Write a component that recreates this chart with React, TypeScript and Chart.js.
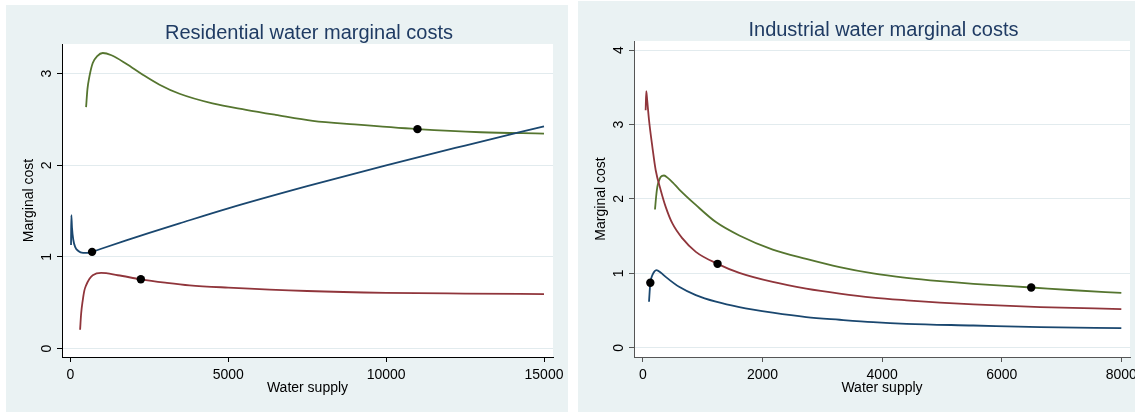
import React, { useEffect, useRef } from "react";
import { Chart, registerables } from "chart.js";
Chart.register(...registerables);

const NAVY = "#1a476f";
const MAROON = "#90353b";
const GREEN = "#55752f";
const BG = "#eaf2f3";
const GRID = "#e2ebee";
const TITLE_COLOR = "#1f3b63";
const FONT = '"Liberation Sans", Arial, sans-serif';

// ---------- Residential panel data ----------
const resTitle = "Residential water marginal costs";
const resXTicks = [0, 5000, 10000, 15000];
const resYTicks = [0, 1, 2, 3];

const resBlueX = [20, 30, 50, 90, 150, 250, 400, 550, 687, 1000, 1767, 2500, 3457, 5000, 7500, 10000, 12500, 15000];
const resBlueY = [1.13, 1.455, 1.32, 1.19, 1.11, 1.065, 1.045, 1.045, 1.055, 1.092, 1.18, 1.262, 1.366, 1.53, 1.772, 2.0, 2.215, 2.425];

const resRedX = [307, 340, 391, 440, 497, 600, 708, 973, 1500, 2231, 3000, 3774, 5000, 7500, 10000, 12500, 15000];
const resRedY = [0.205, 0.38, 0.526, 0.63, 0.69, 0.76, 0.8, 0.825, 0.8, 0.756, 0.72, 0.69, 0.665, 0.628, 0.608, 0.6, 0.595];

const resGreenX = [497, 540, 603, 708, 850, 1025, 1300, 1767, 2293, 2823, 3457, 4500, 5563, 6500, 7676, 9000, 10993, 13000, 15000];
const resGreenY = [2.635, 2.83, 2.97, 3.116, 3.19, 3.225, 3.2, 3.108, 2.988, 2.879, 2.78, 2.675, 2.605, 2.55, 2.485, 2.445, 2.394, 2.36, 2.346];

const resDotX = [687, 2231, 10993];
const resDotY = [1.055, 0.756, 2.394];

// ---------- Industrial panel data ----------
const indTitle = "Industrial water marginal costs";
const indXTicks = [0, 2000, 4000, 6000, 8000];
const indYTicks = [0, 1, 2, 3, 4];

const indBlueX = [101, 112, 123, 140, 157, 190, 224, 300, 380, 604, 884, 1220, 1611, 2170, 2730, 3289, 3848, 4407, 5526, 6644, 8000];
const indBlueY = [0.619, 0.76, 0.874, 0.94, 0.977, 1.025, 1.044, 1.01, 0.954, 0.82, 0.709, 0.62, 0.547, 0.473, 0.414, 0.378, 0.346, 0.324, 0.301, 0.278, 0.265];

const indRedX = [45, 55, 70, 101, 157, 213, 297, 380, 492, 660, 884, 1247, 1611, 2170, 2730, 3289, 3848, 4407, 4966, 5526, 6644, 8000];
const indRedY = [3.19, 3.447, 3.33, 3.06, 2.7, 2.386, 2.118, 1.894, 1.671, 1.47, 1.29, 1.129, 1.008, 0.886, 0.797, 0.73, 0.676, 0.639, 0.608, 0.585, 0.549, 0.522];

const indGreenX = [201, 220, 240, 270, 297, 352, 420, 500, 604, 884, 1220, 1611, 2170, 2730, 3289, 3848, 4407, 4966, 5526, 6493, 7203, 8000];
const indGreenY = [1.859, 2.03, 2.163, 2.25, 2.297, 2.315, 2.28, 2.22, 2.13, 1.92, 1.69, 1.51, 1.32, 1.195, 1.085, 1.0, 0.941, 0.896, 0.86, 0.811, 0.774, 0.738];

const indDotX = [123, 1247, 6493];
const indDotY = [0.874, 1.129, 0.811];

const zip = (xs: number[], ys: number[]) => xs.map((x, i) => ({ x, y: ys[i] }));

type PanelProps = {
  title: string;
  lines: { xs: number[]; ys: number[]; color: string }[];
  dotX: number[];
  dotY: number[];
  xTicks: number[];
  yTicks: number[];
  xMin: number;
  xMax: number;
  yMin: number;
  yMax: number;
  left: number;
  top: number;
  width: number;
  height: number;
  padTop: number;
  padRight: number;
  yWidth: number;
  xHeight: number;
  axisColor: string;
};

function Panel(p: PanelProps) {
  const ref = useRef<HTMLCanvasElement | null>(null);
  useEffect(() => {
    if (!ref.current) return;
    const textPlugin = {
      id: "panelDecor",
      beforeDraw(chart: any) {
        const { ctx, chartArea: a, width, height } = chart;
        ctx.save();
        ctx.fillStyle = BG;
        ctx.fillRect(0, 0, width, height);
        ctx.fillStyle = "#ffffff";
        ctx.fillRect(a.left, a.top, a.right - a.left, a.bottom - a.top);
        ctx.restore();
      },
      afterDraw(chart: any) {
        const { ctx, chartArea: a } = chart;
        const xs = chart.scales.x;
        const ys = chart.scales.y;
        ctx.save();
        ctx.textBaseline = "alphabetic";
        ctx.textAlign = "center";
        ctx.fillStyle = TITLE_COLOR;
        ctx.font = `20px ${FONT}`;
        ctx.fillText(p.title, (a.left + a.right) / 2 + 1.5, a.top - 5.5);
        ctx.fillStyle = "#000";
        ctx.font = `14px ${FONT}`;
        p.xTicks.forEach((v) => {
          ctx.fillText(String(v), xs.getPixelForValue(v), a.bottom + 22);
        });
        ctx.fillText("Water supply", (a.left + a.right) / 2, a.bottom + 35);
        p.yTicks.forEach((v) => {
          ctx.save();
          ctx.translate(a.left - 11.5, ys.getPixelForValue(v));
          ctx.rotate(-Math.PI / 2);
          ctx.fillText(String(v), 0, 0);
          ctx.restore();
        });
        ctx.save();
        ctx.translate(a.left - 29, (a.top + a.bottom) / 2);
        ctx.rotate(-Math.PI / 2);
        ctx.fillText("Marginal cost", 0, 0);
        ctx.restore();
        ctx.restore();
      },
    };
    const datasets: any[] = [
      {
        label: "dots",
        data: zip(p.dotX, p.dotY),
        showLine: false,
        pointRadius: 4.2,
        pointBackgroundColor: "#000",
        pointBorderColor: "#000",
        pointBorderWidth: 0,
      },
      ...p.lines.map((l, i) => ({
        label: "line" + i,
        data: zip(l.xs, l.ys),
        showLine: true,
        borderColor: l.color,
        borderWidth: 1.8,
        pointRadius: 0,
        fill: false,
        cubicInterpolationMode: "monotone",
        tension: 0.4,
      })),
    ];
    const chart = new Chart(ref.current, {
      type: "scatter",
      data: { datasets },
      options: {
        animation: false,
        responsive: false,
        maintainAspectRatio: false,
        devicePixelRatio: 1,
        layout: { padding: { left: 0, top: p.padTop, right: p.padRight, bottom: 0 } },
        plugins: { legend: { display: false }, tooltip: { enabled: false }, title: { display: false } },
        events: [],
        scales: {
          x: {
            type: "linear",
            min: p.xMin,
            max: p.xMax,
            afterBuildTicks: (s: any) => {
              s.ticks = p.xTicks.map((v) => ({ value: v }));
            },
            afterFit: (s: any) => {
              s.height = p.xHeight;
            },
            ticks: { display: false },
            grid: {
              display: true,
              drawOnChartArea: false,
              drawTicks: true,
              tickLength: 5,
              tickColor: p.axisColor,
              tickWidth: 1,
            },
            border: { display: true, color: p.axisColor, width: 1 },
          },
          y: {
            type: "linear",
            min: p.yMin,
            max: p.yMax,
            afterBuildTicks: (s: any) => {
              s.ticks = p.yTicks.map((v) => ({ value: v }));
            },
            afterFit: (s: any) => {
              s.width = p.yWidth;
            },
            ticks: { display: false },
            grid: {
              display: true,
              drawOnChartArea: true,
              drawTicks: true,
              tickLength: 5,
              color: GRID,
              lineWidth: 1,
              tickColor: p.axisColor,
              tickWidth: 1,
            },
            border: { display: true, color: p.axisColor, width: 1 },
          },
        },
      } as any,
      plugins: [textPlugin],
    });
    return () => chart.destroy();
  }, []);
  return (
    <canvas
      ref={ref}
      width={p.width}
      height={p.height}
      style={{ position: "absolute", left: p.left, top: p.top, width: p.width, height: p.height }}
    />
  );
}

export default function App() {
  return (
    <div style={{ position: "fixed", left: 0, top: 0, width: 1135, height: 412, background: "#fff", overflow: "hidden" }}>
      <Panel
        title={resTitle}
        lines={[
          { xs: resBlueX, ys: resBlueY, color: NAVY },
          { xs: resRedX, ys: resRedY, color: MAROON },
          { xs: resGreenX, ys: resGreenY, color: GREEN },
        ]}
        dotX={resDotX}
        dotY={resDotY}
        xTicks={resXTicks}
        yTicks={resYTicks}
        xMin={-266}
        xMax={15285}
        yMin={-0.092}
        yMax={3.323}
        left={6}
        top={5}
        width={562}
        height={407}
        padTop={39}
        padRight={15}
        yWidth={56}
        xHeight={55}
        axisColor="#000"
      />
      <Panel
        title={indTitle}
        lines={[
          { xs: indBlueX, ys: indBlueY, color: NAVY },
          { xs: indRedX, ys: indRedY, color: MAROON },
          { xs: indGreenX, ys: indGreenY, color: GREEN },
        ]}
        dotX={indDotX}
        dotY={indDotY}
        xTicks={indXTicks}
        yTicks={indYTicks}
        xMin={-150}
        xMax={8145}
        yMin={-0.122}
        yMax={4.121}
        left={578}
        top={1}
        width={557}
        height={411}
        padTop={40}
        padRight={5}
        yWidth={56}
        xHeight={55}
        axisColor="#555"
      />
    </div>
  );
}
